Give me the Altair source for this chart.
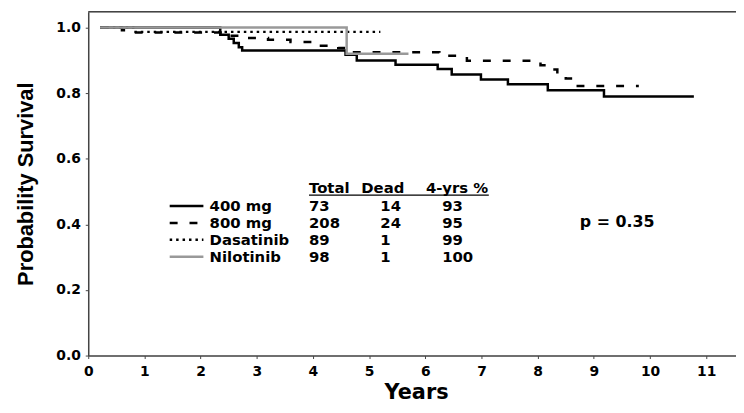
import altair as alt
import pandas as pd

# ---------------- data ----------------
series_names = ["400 mg", "800 mg", "Dasatinib", "Nilotinib"]

t_400 = [0.21, 2.35, 2.50, 2.59, 2.68, 2.74, 4.58, 4.78, 5.47, 6.22, 6.47, 6.99, 7.47, 8.18, 9.18, 10.78]
s_400 = [1.0, 0.978, 0.966, 0.953, 0.940, 0.930, 0.917, 0.900, 0.887, 0.874, 0.857, 0.842, 0.827, 0.809, 0.790, 0.790]

t_800 = [0.21, 0.6, 0.85, 2.42, 2.8, 3.2, 3.6, 3.95, 4.45, 4.65, 6.25, 6.74, 8.05, 8.2, 8.35, 8.5, 8.62, 9.8]
s_800 = [1.0, 0.992, 0.985, 0.975, 0.968, 0.963, 0.956, 0.945, 0.938, 0.925, 0.914, 0.899, 0.885, 0.872, 0.860, 0.845, 0.822, 0.822]

t_das = [0.21, 0.8, 5.2]
s_das = [1.0, 0.987, 0.987]

t_nil = [0.21, 4.6, 5.7]
s_nil = [1.0, 0.92, 0.92]

totals = [73, 208, 89, 98]
deads = [14, 24, 1, 1]
pct4 = [93, 95, 99, 100]
header = ["Total", "Dead", "4-yrs %"]
p_text = "p = 0.35"

x_ticks = list(range(0, 12))
y_ticks = [0.0, 0.2, 0.4, 0.6, 0.8, 1.0]

# ---------------- layout / style ----------------
W, H = 654, 347
X_DOM = [0, 11.53]
Y_DOM = [0, 1.048]

styles = {
    "400 mg": dict(color="black", strokeWidth=2.5),
    "800 mg": dict(color="black", strokeWidth=2.5, strokeDash=[8, 12]),
    "Dasatinib": dict(color="black", strokeWidth=2.5, strokeDash=[2.5, 4]),
    "Nilotinib": dict(color="#999999", strokeWidth=2.5),
}

FONT = "DejaVu Sans"

xaxis = alt.Axis(values=x_ticks, format="d", title="Years", grid=False,
                 labelFont=FONT, labelFontWeight="bold", labelFontSize=14, labelColor="black",
                 labelPadding=6, labelFlush=False, tickSize=3, tickColor="#444",
                 domainColor="#444", domainWidth=1.5,
                 titleFont=FONT, titleFontSize=21, titleFontWeight="bold", titleColor="black",
                 titleX=331, titleY=43, titleBaseline="alphabetic", titleAlign="center")
yaxis = alt.Axis(values=y_ticks, format=".1f", title="Probability Survival", grid=False,
                 labelFont=FONT, labelFontWeight="bold", labelFontSize=14, labelColor="black",
                 labelPadding=5, labelFlush=False, tickSize=3, tickColor="#444",
                 domainColor="#444", domainWidth=1.5,
                 titleFont="Liberation Sans", titleFontSize=22, titleFontWeight="bold",
                 titleColor="black", titleX=-56, titleY=H / 2, titleAngle=270,
                 titleBaseline="alphabetic", titleAlign="center")


def X(f):
    return alt.X(f, type="quantitative", scale=alt.Scale(domain=X_DOM, nice=False, zero=False), axis=xaxis)


def X2(f):
    return alt.X2(f)


def Y(f):
    return alt.Y(f, type="quantitative", scale=alt.Scale(domain=Y_DOM, nice=False, zero=False), axis=yaxis)


curve_t = {"400 mg": t_400, "800 mg": t_800, "Dasatinib": t_das, "Nilotinib": t_nil}
curve_s = {"400 mg": s_400, "800 mg": s_800, "Dasatinib": s_das, "Nilotinib": s_nil}

layers = []

# frame top line
layers.append(
    alt.Chart(pd.DataFrame({"a": [0]})).mark_rule(color="#444", strokeWidth=1.5)
    .encode(x=alt.value(0), x2=alt.value(W), y=alt.value(0))
)

# survival curves
for name in series_names:
    df = pd.DataFrame({"year": curve_t[name], "surv": curve_s[name]})
    layers.append(
        alt.Chart(df).mark_line(interpolate="step-after", **styles[name])
        .encode(x=X("year"), y=Y("surv"))
    )

# legend table layout (in data units)
row_y = [0.456 - i * 0.0515 for i in range(len(series_names))]
for i, name in enumerate(series_names):
    dfl = pd.DataFrame({"x0": [1.45], "x1": [2.05], "y": [row_y[i]]})
    layers.append(
        alt.Chart(dfl).mark_rule(**styles[name]).encode(x=X("x0"), x2=X2("x1"), y=Y("y"))
    )

tab = pd.DataFrame({
    "name": series_names,
    "total": [str(v) for v in totals],
    "dead": [str(v) for v in deads],
    "pct": [str(v) for v in pct4],
    "y": row_y,
    "xn": 2.16, "xt": 3.93, "xd": 5.20, "xp": 6.30,
})

txt = dict(align="left", baseline="middle", font=FONT, fontWeight="bold", fontSize=15, color="black")
for col, xc in [("name", "xn"), ("total", "xt"), ("dead", "xd"), ("pct", "xp")]:
    layers.append(
        alt.Chart(tab).mark_text(**txt).encode(x=X(xc), y=Y("y"), text=alt.Text(col + ":N"))
    )

head = pd.DataFrame({"text": header, "x": [3.93, 4.86, 6.01], "y": [0.511] * 3})
layers.append(alt.Chart(head).mark_text(**txt).encode(x=X("x"), y=Y("y"), text="text:N"))

uline = pd.DataFrame({"x0": [3.93], "x1": [7.13], "y": [0.489]})
layers.append(
    alt.Chart(uline).mark_rule(color="black", strokeWidth=1.2).encode(x=X("x0"), x2=X2("x1"), y=Y("y"))
)

pdf = pd.DataFrame({"text": [p_text], "x": [8.75], "y": [0.408]})
layers.append(
    alt.Chart(pdf).mark_text(align="left", baseline="middle", font=FONT, fontWeight="bold",
                             fontSize=16, color="black")
    .encode(x=X("x"), y=Y("y"), text="text:N")
)

chart = (
    alt.layer(*layers)
    .properties(width=W, height=H, autosize=alt.AutoSizeParams(type="none"),
                padding={"left": 81, "top": 2, "right": 0, "bottom": 46})
    .configure_view(stroke=None)
    .configure(background="white")
)

chart.save("out.html", embed_options={"renderer": "svg", "actions": False})
